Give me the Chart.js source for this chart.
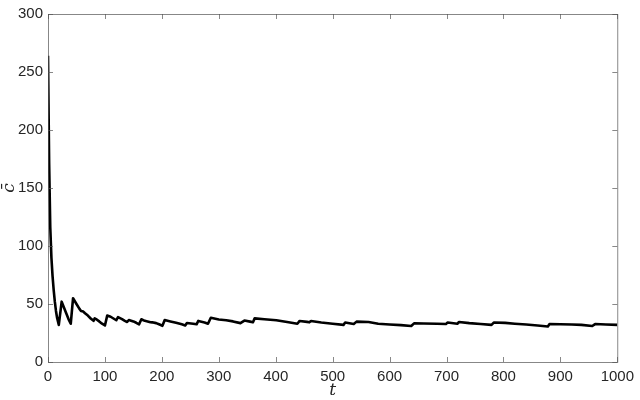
<!DOCTYPE html>
<html>
<head>
<meta charset="utf-8">
<script src="https://cdn.jsdelivr.net/npm/chart.js@4.4.1/dist/chart.umd.min.js"></script>
<style>
html,body{margin:0;padding:0;background:#fff;}
#wrap{width:640px;height:400px;position:relative;}
</style>
</head>
<body>
<div id="wrap"><canvas id="c" width="640" height="400"></canvas></div>
<script>
// data
const tValues = [0,2,4,6,8,10,12,14,16,19,24,28,32,36,40,44,50,55,58,62,65,70,75,80,82,86,90,95,100,104,110,115,120,123,130,135,139,142,150,155,160,164,170,175,180,183,190,195,201,205,215,225,235,241,244,255,261,264,275,281,286,300,313,325,338,345,355,360,363,380,401,420,438,442,455,459,462,480,500,519,522,537,542,563,580,600,620,638,643,660,683,699,702,719,722,740,760,779,783,803,820,840,860,878,881,900,920,937,956,961,980,1000];
const cValues = [264,172,116,90,74,62,52,44,38,32,52,47,42,37,33,55,50,46,44,43.5,42,40,37.5,35.5,37.6,36.5,35,33,31.5,40,39,37.5,36,38.7,37,35.5,34.5,36.2,35,33.8,32.5,36.8,35.5,35,34.3,34.2,33.5,32.5,31.2,36.2,35,33.8,32.5,31.5,33.6,33,32.5,35.4,34,33,38.2,36.7,36,35,33.5,35.7,34.8,34.2,37.6,36.8,36,34.5,33,35.4,34.6,34.2,35.4,34,33,32,34,32.7,34.8,34.5,33,32.3,31.8,31,33.3,33.2,33,32.8,34,33,34.5,33.5,32.8,32,34,33.7,33,32.3,31.5,30.6,32.8,32.6,32.3,32,31,32.7,32.3,32];
const xTicks = [0,100,200,300,400,500,600,700,800,900,1000];
const yTicks = [0,50,100,150,200,250,300];
const xLabel = 't';
const yLabel = 'c\u0304';

const points = tValues.map((t,i)=>({x:t,y:cValues[i]}));

const boxPlugin = {
  id:'matlabBox',
  afterDraw(chart){
    const {ctx, chartArea:a, scales:{x,y}} = chart;
    ctx.save();
    ctx.strokeStyle = '#555';
    ctx.lineWidth = 0.7;
    ctx.strokeRect(a.left+0.5, a.top+0.5, a.right-a.left, a.bottom-a.top);
    const L = 5;
    ctx.beginPath();
    xTicks.forEach(v=>{
      const px = Math.round(x.getPixelForValue(v))+0.5;
      ctx.moveTo(px,a.bottom); ctx.lineTo(px,a.bottom-L);
      ctx.moveTo(px,a.top); ctx.lineTo(px,a.top+L);
    });
    yTicks.forEach(v=>{
      const py = Math.round(y.getPixelForValue(v))+0.5;
      ctx.moveTo(a.left,py); ctx.lineTo(a.left+L,py);
      ctx.moveTo(a.right,py); ctx.lineTo(a.right-L,py);
    });
    ctx.stroke();
    // axis labels
    ctx.fillStyle = '#262626';
    ctx.font = 'italic 17px "DejaVu Serif", "Liberation Serif", serif';
    ctx.textAlign = 'center';
    ctx.textBaseline = 'middle';
    ctx.fillText(xLabel, (a.left+a.right)/2, 391);
    ctx.translate(10, (a.top+a.bottom)/2);
    ctx.rotate(-Math.PI/2);
    ctx.fillText(yLabel, 0, 0);
    ctx.restore();
  }
};

new Chart(document.getElementById('c'), {
  type:'line',
  data:{datasets:[{data:points,borderColor:'#000',borderWidth:2.6,pointRadius:0,tension:0,fill:false,borderJoinStyle:'round'}]},
  options:{
    responsive:false,animation:false,
    layout:{padding:{top:6,right:18,left:0,bottom:0}},
    plugins:{legend:{display:false},tooltip:{enabled:false}},
    scales:{
      x:{type:'linear',min:0,max:1000,
        afterBuildTicks(s){s.ticks = xTicks.map(v=>({value:v}));},
        afterFit(s){s.height = 38;},
        grid:{display:false,drawTicks:false},border:{display:false},
        ticks:{padding:6,color:'#262626',font:{family:'"Liberation Sans", Arial, sans-serif',size:15},maxRotation:0,autoSkip:false,callback:v=>String(v)}},
      y:{min:0,max:300,
        afterBuildTicks(s){s.ticks = yTicks.map(v=>({value:v}));},
        afterFit(s){s.width = 48;},
        grid:{display:false,drawTicks:false},border:{display:false},
        ticks:{padding:5,color:'#262626',font:{family:'"Liberation Sans", Arial, sans-serif',size:15},callback:v=>String(v)}}
    }
  },
  plugins:[boxPlugin]
});
</script>
</body>
</html>
